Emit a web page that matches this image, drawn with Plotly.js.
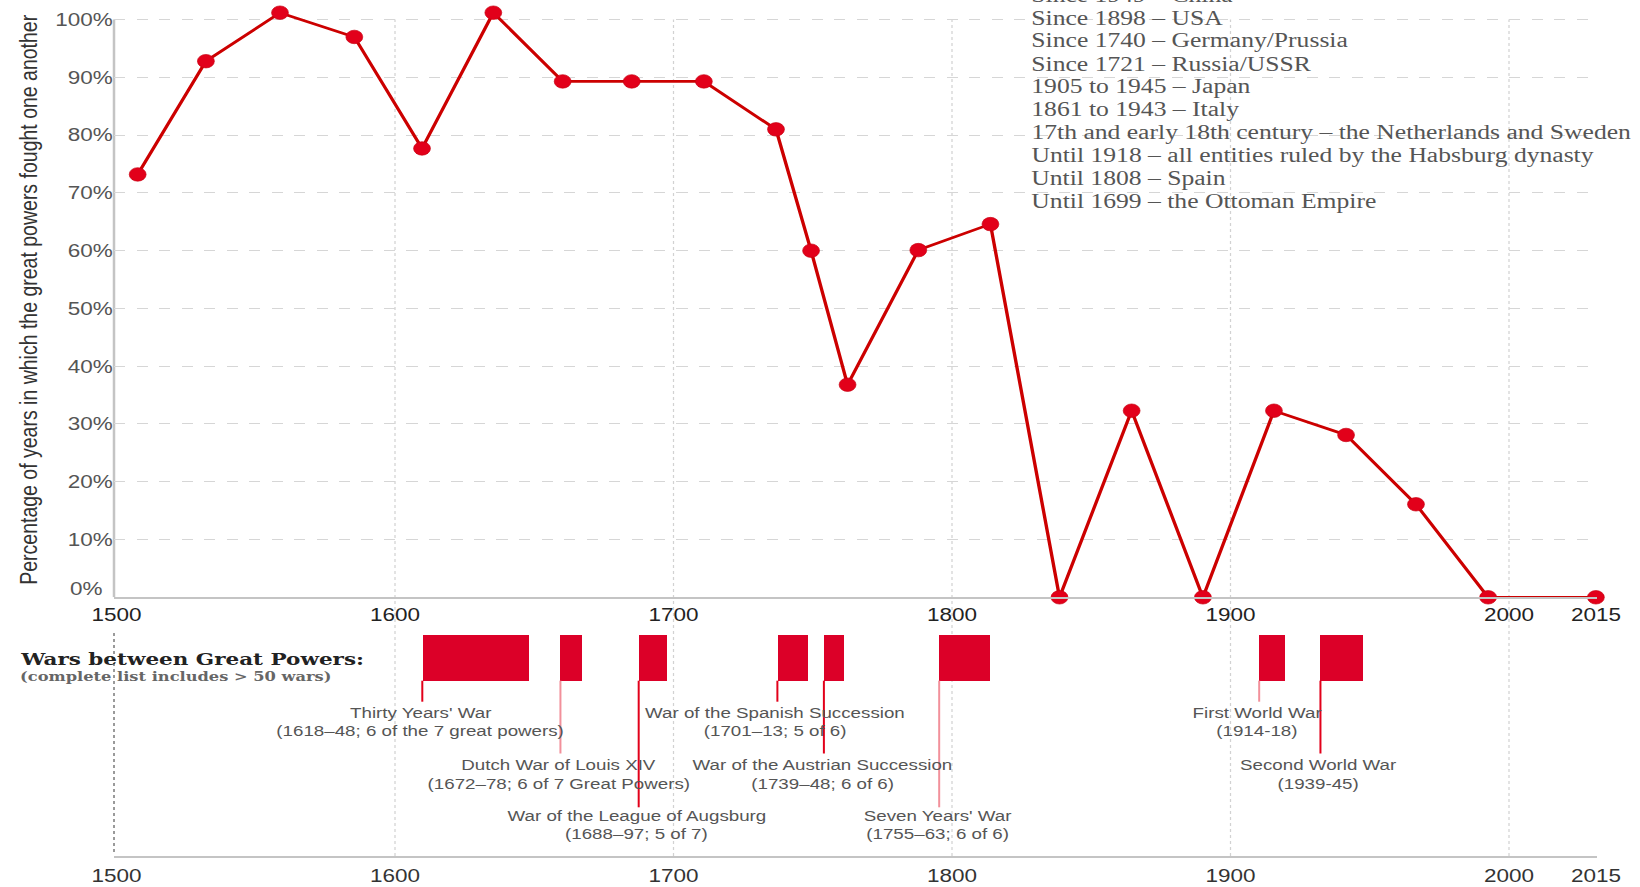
<!DOCTYPE html>
<html><head><meta charset="utf-8">
<script src="https://cdn.plot.ly/plotly-3.0.1.min.js"></script>
<style>
html,body{margin:0;padding:0;background:#fff;overflow:hidden;}
#chart{width:1312px;height:887px;transform:scaleX(1.25);transform-origin:0 0;}
</style></head><body><div id="chart"></div>
<script>
// ---- DATA (x positions as read on the chart's own year axis) ----
const periodYear = [1507.6,1532.1,1558.7,1585.4,1609.7,1635.3,1660.2,1685.0,1710.9,1736.8,1749.4,1762.5,1787.9,1813.8,1838.6,1864.5,1890.1,1915.6,1941.5,1966.6,1992.5,2031.2];
const pctYearsAtWar = [73.2,92.8,101.2,97.0,77.7,101.2,89.3,89.3,89.3,81.0,60.0,36.8,60.1,64.6,0,32.3,0,32.3,28.1,16.1,0,0];

const xTickVals = [1500,1600,1700,1800,1900,2000,2031.2];
const xTickText = ['1500','1600','1700','1800','1900','2000','2015'];
const xGridVals = [1600,1700,1800,1900,2000];
const yTickVals = [0,10,20,30,40,50,60,70,80,90,100];
const yTickText = ['','10%','20%','30%','40%','50%','60%','70%','80%','90%','100%'];
const yZeroLabel = '0%';

const warNames = ["Thirty Years' War","Dutch War of Louis XIV","War of the League of Augsburg","War of the Spanish Succession","War of the Austrian Succession","Seven Years' War","First World War","Second World War"];
const warDetails = ["(1618–48; 6 of the 7 great powers)","(1672–78; 6 of 7 Great Powers)","(1688–97; 5 of 7)","(1701–13; 5 of 6)","(1739–48; 6 of 6)","(1755–63; 6 of 6)","(1914-18)","(1939-45)"];
const warStart = [1609.8,1659.4,1687.5,1737.3,1754.0,1795.4,1910.3,1932.3];
const warEnd   = [1648.0,1667.1,1697.6,1748.3,1761.2,1813.6,1919.6,1947.5];

const powersNotes = ["Since 1949 – China","Since 1898 – USA","Since 1740 – Germany/Prussia","Since 1721 – Russia/USSR","1905 to 1945 – Japan","1861 to 1943 – Italy","17th and early 18th century – the Netherlands and Sweden","Until 1918 – all entities ruled by the Habsburg dynasty","Until 1808 – Spain","Until 1699 – the Ottoman Empire"];

const yTitle = "Percentage of years in which the great powers fought one another";
const warsHeading = "Wars between Great Powers:";
const warsSub = "(complete list includes &gt; 50 wars)";

// ---- LAYOUT CONFIG (positions / styles) ----
const W = 1640, H = 887;
const px = p => p / W;
const py = p => 1 - p / H;
const labelLevel = [1,2,3,1,2,3,1,2];
const connectorColor = ['#e2001a','#f2909b','#e2001a','#e2001a','#e2001a','#f2909b','#f2909b','#e2001a'];
const SANS = '"Liberation Sans", Arial, sans-serif';
const SERIF = '"Liberation Serif", "Times New Roman", serif';
const SERIF_B = '"DejaVu Serif", Georgia, serif';

// lower panel y2 scale: pixel 627 (top) .. 856 (bottom) -> 1 .. 0
const lowTop = 627, lowBot = 856;
const y2 = p => (lowBot - p) / (lowBot - lowTop);
const barTopPx = 635, barBotPx = 680.7;
const levelLine1Px = [712, 764.5, 815.3];
const levelConnPx = [701.7, 753.5, 807.3];

const traces = [];
traces.push({
  type:'scatter', mode:'lines+markers', x: periodYear, y: pctYearsAtWar,
  xaxis:'x', yaxis:'y', cliponaxis:false, hoverinfo:'x+y',
  line:{color:'#cc0000', width:2.7},
  marker:{color:'#e2001a', size:13.5, line:{color:'#c80010', width:0.6}},
  showlegend:false
});
traces.push({
  type:'bar', orientation:'h', xaxis:'x2', yaxis:'y2',
  base: warStart, x: warEnd.map((e,i)=>e-warStart[i]),
  y: warStart.map(()=> (y2(barTopPx)+y2(barBotPx))/2),
  width: y2(barTopPx)-y2(barBotPx),
  marker:{color:'#dc0028', line:{width:0}},
  text: warNames, hoverinfo:'text', textposition:'none', showlegend:false
});
warStart.forEach((s,i)=>{
  traces.push({
    type:'scatter', mode:'lines', xaxis:'x2', yaxis:'y2',
    x:[s,s], y:[y2(barBotPx), y2(levelConnPx[labelLevel[i]-1])],
    line:{color:connectorColor[i], width:1.6}, hoverinfo:'skip', showlegend:false
  });
});

const annotations = [];
annotations.push({xref:'paper', yref:'paper', x:px(104.6), y:py(589), xanchor:'right', yanchor:'middle',
  text:yZeroLabel, showarrow:false, font:{family:SANS, size:18, color:'#555'}});
powersNotes.forEach((t,i)=>{
  annotations.push({xref:'paper', yref:'paper', x:px(1029), y:py(17.8 + 23*(i-1)), xanchor:'left', yanchor:'middle',
    text:t, showarrow:false, font:{family:SERIF, size:20.5, color:'#555'}});
});
annotations.push({xref:'paper', yref:'paper', x:px(18), y:py(659), xanchor:'left', yanchor:'middle',
  text:'<b>'+warsHeading+'</b>', showarrow:false, font:{family:SERIF_B, size:17.2, color:'#222'}});
annotations.push({xref:'paper', yref:'paper', x:px(18), y:py(676.5), xanchor:'left', yanchor:'middle',
  text:'<b>'+warsSub+'</b>', showarrow:false, font:{family:SERIF_B, size:13, color:'#666'}});
warStart.forEach((s,i)=>{
  const l1 = levelLine1Px[labelLevel[i]-1];
  annotations.push({xref:'x2', yref:'paper', x:s, xshift:-1.6, y:py(l1), xanchor:'center', yanchor:'middle',
    text:warNames[i], showarrow:false, font:{family:SANS, size:15, color:'#555'}});
  annotations.push({xref:'x2', yref:'paper', x:s, xshift:-1.6, y:py(l1+18.5), xanchor:'center', yanchor:'middle',
    text:warDetails[i], showarrow:false, font:{family:SANS, size:15, color:'#555'}});
});

const xRange = [1499.1, 2031.6];
const xDomain = [px(114), px(1597)];
const yTopPx = 2.28; // top of the upper plot area (100% sits at 19.6 px)

const shapes = [];
xGridVals.forEach(g=>{
  shapes.push({type:'line', layer:'below', xref:'x', yref:'paper', x0:g, x1:g, y0:py(lowBot), y1:py(19.6),
    line:{color:'#d2d2d2', width:1, dash:'dot'}});
});
shapes.push({type:'line', layer:'below', xref:'paper', yref:'y', x0:px(114), x1:px(114), y0:0, y1:100,
  line:{color:'#c4c4c4', width:2}});
shapes.push({type:'line', xref:'paper', yref:'paper', x0:px(114), x1:px(114), y0:py(633), y1:py(855),
  line:{color:'#9a9a9a', width:1.6, dash:'dot'}});

const layout = {
  width:1312, height:887,
  margin:{l:0,r:0,t:0,b:0,pad:0},
  paper_bgcolor:'#fff', plot_bgcolor:'rgba(0,0,0,0)',
  showlegend:false, bargap:0,
  xaxis:{domain:xDomain, range:xRange, anchor:'y', tickvals:xTickVals, ticktext:xTickText, ticks:'',
    showgrid:false, zeroline:false, showline:true, linecolor:'#c4c4c4', linewidth:1.5,
    tickfont:{family:SANS, size:18, color:'#222'}, automargin:false, fixedrange:true},
  yaxis:{domain:[py(597.3), py(yTopPx)], range:[0,103], anchor:'x', tickvals:yTickVals, ticktext:yTickText, ticks:'',
    showgrid:true, gridcolor:'#d6d6d6', griddash:'dash', gridwidth:1, zeroline:false,
    showline:false,
    tickfont:{family:SANS, size:18, color:'#555'}, automargin:false, fixedrange:true,
    title:{text:yTitle, font:{family:SANS, size:19.5, color:'#333'}, standoff:8}},
  xaxis2:{domain:xDomain, range:xRange, anchor:'y2', tickvals:xTickVals, ticktext:xTickText, ticks:'',
    showgrid:false, zeroline:false, showline:true, linecolor:'#c4c4c4', linewidth:1.5, ticklabelstandoff:3,
    tickfont:{family:SANS, size:18, color:'#333'}, automargin:false, fixedrange:true},
  yaxis2:{domain:[py(lowBot), py(lowTop)], range:[0,1], anchor:'x2', showgrid:false, zeroline:false,
    showline:false, showticklabels:false, ticks:'', fixedrange:true},
  shapes: shapes,
  annotations: annotations
};

Plotly.newPlot('chart', traces, layout, {displayModeBar:false, responsive:false});
</script></body></html>
